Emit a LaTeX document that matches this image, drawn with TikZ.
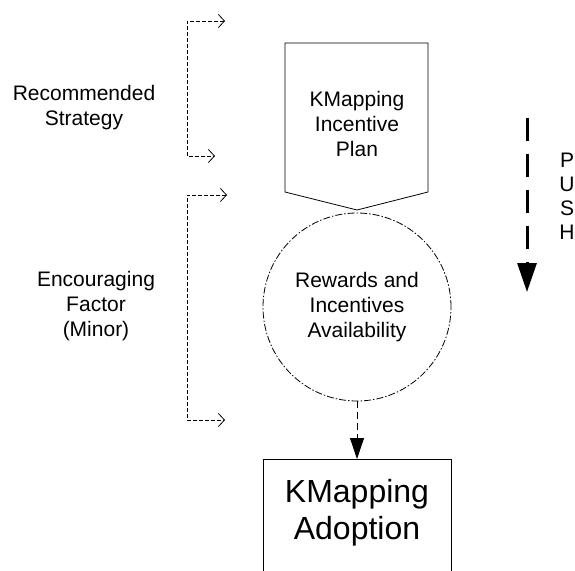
\documentclass[tikz,border=0pt]{standalone}
\usepackage{fontspec}
\setmainfont{Liberation Sans}
\usetikzlibrary{arrows.meta, positioning, calc}

\begin{document}
\begin{tikzpicture}[x=1pt, y=-1pt, line width=0.8pt,
        label/.style={align=center, font=\fontsize{21}{25}\selectfont},
        bigtext/.style={align=center, font=\fontsize{32}{37}\selectfont},
        bracket/.style={dash pattern=on 4pt off 2pt, {Straight Barb[length=6pt,width=13pt]}-{Straight Barb[length=6pt,width=13pt]}},
        flow/.style={dash pattern=on 7pt off 4pt, -{Triangle[length=21pt,width=14pt]}}]
        \def\cx{357}
        
        % Khung hình
        \clip (0,0) rectangle (575,570);
        
        % Kế hoạch (ngũ giác)
        \draw (285,43) -- (428,43) -- (428,192) -- (\cx,210) -- (285,192) -- cycle;
        \node[label] (plan) at (\cx,124) {KMapping\\Incentive\\Plan};
        
        % Vòng tròn
        \node[circle, draw, minimum size=188pt, inner sep=0pt, dash pattern=on 7pt off 2pt on 1.5pt off 2pt, label] (rewards) at (\cx,307) {Rewards and\\Incentives\\Availability};
        
        % Hộp dưới
        \node[draw, anchor=north, minimum width=188pt, minimum height=140pt] (adopt) at (\cx,459) {};
        \node[bigtext] (adopttext) at (\cx,513) {KMapping\\Adoption};
        \draw[flow] (rewards.south) -- (adopt.north);
        
        % Chú thích bên trái
        \node[label] (strategy) at (84,108) {Recommended\\Strategy};
        \node[label] (factor) at (96,306) {Encouraging\\Factor\\(Minor)};
        
        \coordinate (rsTop) at (225,21);
        \coordinate (rsBot) at (215,156);
        \draw[bracket] (rsTop) -- ++(-38,0) |- (rsBot);
        
        \coordinate (efTop) at (227,195);
        \coordinate (efBot) at (225,420);
        \draw[bracket] (efTop) -- ++(-40,0) |- (efBot);
        
        % PUSH
        \coordinate (pushTop) at (527,118);
        \coordinate (pushBot) at (527,292);
        \draw[line width=3pt, dash pattern=on 23pt off 13pt, -{Triangle[length=29pt,width=19pt]}] (pushTop) -- (pushBot);
        \node[font=\fontsize{21}{24}\selectfont, align=center] (push) at (567,196) {P\\U\\S\\H};
\end{tikzpicture}
\end{document}
